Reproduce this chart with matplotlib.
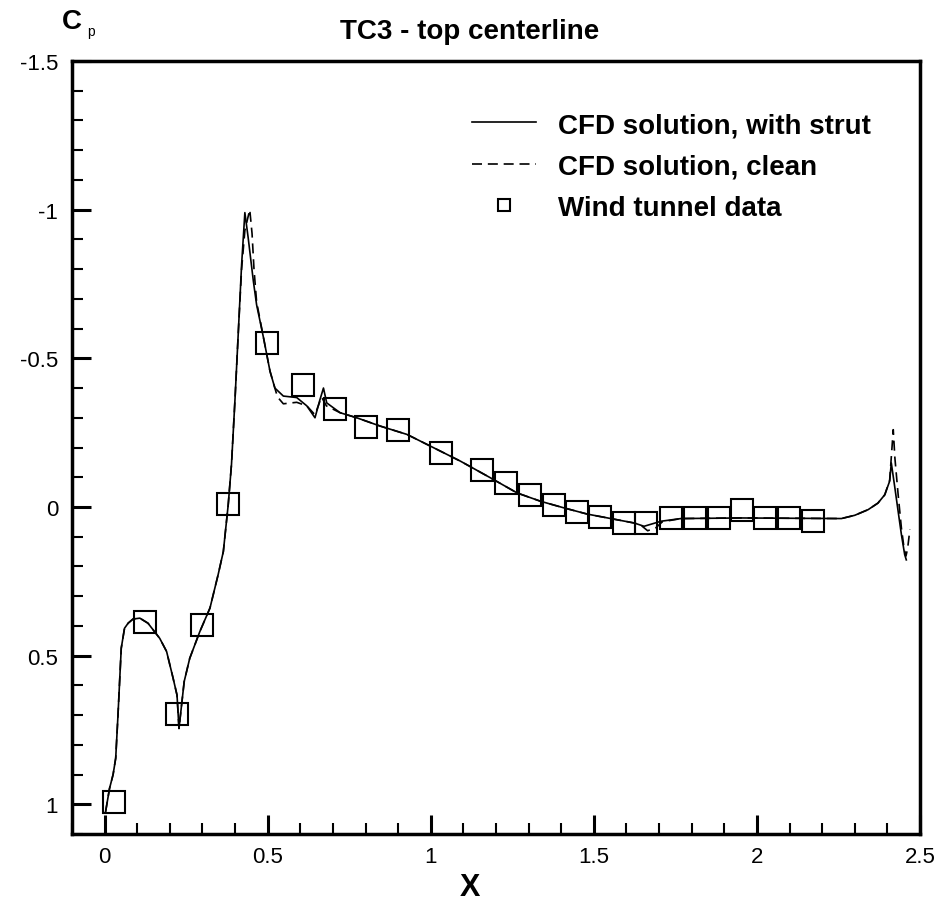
import matplotlib
matplotlib.use("Agg")
import matplotlib.pyplot as plt
from matplotlib.ticker import MultipleLocator

plt.rcParams['font.family'] = ['Liberation Sans', 'DejaVu Sans']
plt.rcParams['axes.unicode_minus'] = False

# CFD solution, with strut
x_strut = [0.003, 0.015, 0.026, 0.034, 0.041, 0.046, 0.051, 0.061, 0.072, 0.087,
           0.108, 0.133, 0.169, 0.19, 0.21, 0.222, 0.228, 0.236, 0.244, 0.261,
           0.292, 0.323, 0.348, 0.364, 0.379, 0.389, 0.40, 0.41, 0.42, 0.43,
           0.44, 0.456, 0.466, 0.487, 0.507, 0.522, 0.548, 0.589, 0.62, 0.645,
           0.66, 0.671, 0.681, 0.722, 0.773, 0.845, 0.927, 1.0, 1.091, 1.183,
           1.265, 1.337, 1.408, 1.48, 1.552, 1.624, 1.654, 1.706, 1.767, 1.951,
           2.1, 2.259, 2.30, 2.341, 2.371, 2.392, 2.407, 2.412, 2.423, 2.433,
           2.443, 2.453, 2.458]
cp_strut = [1.025, 0.947, 0.90, 0.845, 0.70, 0.587, 0.475, 0.408, 0.391, 0.377,
            0.374, 0.391, 0.442, 0.486, 0.576, 0.633, 0.745, 0.666, 0.587, 0.509,
            0.419, 0.34, 0.228, 0.15, -0.008, -0.143, -0.367, -0.59, -0.815, -0.99,
            -0.907, -0.76, -0.68, -0.57, -0.457, -0.40, -0.373, -0.368, -0.34, -0.30,
            -0.36, -0.40, -0.35, -0.317, -0.30, -0.272, -0.244, -0.204, -0.154, -0.098,
            -0.047, -0.019, 0.003, 0.024, 0.039, 0.054, 0.065, 0.048, 0.039, 0.037,
            0.038, 0.039, 0.028, 0.009, -0.013, -0.041, -0.087, -0.148, -0.064, 0.015,
            0.093, 0.16, 0.178]

# CFD solution, clean
x_clean = [0.003, 0.015, 0.026, 0.034, 0.041, 0.046, 0.051, 0.061, 0.072, 0.087,
           0.108, 0.133, 0.169, 0.19, 0.21, 0.222, 0.228, 0.236, 0.244, 0.261,
           0.292, 0.323, 0.348, 0.364, 0.379, 0.389, 0.40, 0.41, 0.42, 0.43,
           0.445, 0.452, 0.458, 0.466, 0.487, 0.507, 0.522, 0.53, 0.548, 0.589,
           0.62, 0.645, 0.665, 0.68, 0.722, 0.773, 0.845, 0.927, 1.0, 1.091,
           1.183, 1.265, 1.337, 1.408, 1.48, 1.552, 1.624, 1.645, 1.665, 1.69,
           1.71, 1.767, 1.951, 2.1, 2.259, 2.30, 2.341, 2.371, 2.392, 2.407,
           2.418, 2.423, 2.433, 2.443, 2.451, 2.457, 2.462, 2.469]
cp_clean = [1.025, 0.947, 0.90, 0.845, 0.70, 0.587, 0.475, 0.408, 0.391, 0.377,
            0.374, 0.391, 0.442, 0.486, 0.576, 0.633, 0.745, 0.666, 0.587, 0.509,
            0.419, 0.34, 0.228, 0.15, -0.008, -0.143, -0.367, -0.59, -0.80, -0.93,
            -1.0, -0.92, -0.80, -0.69, -0.57, -0.457, -0.40, -0.37, -0.347, -0.352,
            -0.34, -0.31, -0.37, -0.34, -0.317, -0.30, -0.272, -0.244, -0.204, -0.154,
            -0.098, -0.047, -0.019, 0.003, 0.024, 0.039, 0.054, 0.062, 0.08, 0.07,
            0.05, 0.039, 0.037, 0.038, 0.039, 0.028, 0.009, -0.013, -0.041, -0.09,
            -0.26, -0.165, -0.041, 0.071, 0.138, 0.165, 0.14, 0.076]

# Wind tunnel data
x_wt = [0.029, 0.125, 0.221, 0.30, 0.379, 0.498, 0.607, 0.705, 0.801, 0.898,
        1.03, 1.158, 1.232, 1.303, 1.378, 1.449, 1.519, 1.591, 1.66, 1.738,
        1.81, 1.883, 1.955, 2.025, 2.097, 2.172]
cp_wt = [0.994, 0.388, 0.698, 0.397, -0.011, -0.553, -0.41, -0.331, -0.269, -0.258,
         -0.182, -0.126, -0.079, -0.039, -0.008, 0.017, 0.034, 0.053, 0.053, 0.037,
         0.037, 0.037, 0.009, 0.037, 0.037, 0.046]

fig = plt.figure(figsize=(9.39, 9.03), dpi=100)
ax = fig.add_axes([72/939, 68/903, 848/939, 773/903])

ax.plot(x_strut, cp_strut, color='black', lw=1.2, label='CFD solution, with strut')
ax.plot(x_clean, cp_clean, color='black', lw=1.2, dashes=(6, 3.5),
        label='CFD solution, clean')
ax.plot(x_wt, cp_wt, ls='none', marker='s', ms=16, mfc='none', mec='black',
        mew=1.5, label='Wind tunnel data')

ax.set_xlim(-0.1, 2.5)
ax.set_ylim(1.1, -1.5)
ax.xaxis.set_major_locator(MultipleLocator(0.5))
ax.xaxis.set_minor_locator(MultipleLocator(0.1))
ax.yaxis.set_major_locator(MultipleLocator(0.5))
ax.yaxis.set_minor_locator(MultipleLocator(0.1))
ax.set_xticks([0, 0.5, 1, 1.5, 2, 2.5])
ax.set_xticklabels(['0', '0.5', '1', '1.5', '2', '2.5'])
ax.set_yticks([-1.5, -1, -0.5, 0, 0.5, 1])
ax.set_yticklabels(['-1.5', '-1', '-0.5', '0', '0.5', '1'])

ax.tick_params(which='both', direction='in', top=False, right=False)
ax.tick_params(which='major', length=14, width=2.2, labelsize=16)
ax.tick_params(axis='x', which='major', pad=9)
ax.tick_params(axis='y', which='major', pad=10)
ax.tick_params(which='minor', length=8, width=1.5)
for s in ax.spines.values():
    s.set_linewidth(2.5)

ax.set_xlabel('X', fontsize=22, fontweight='bold')
ax.xaxis.label.set_va('center')
ax.xaxis.set_label_coords(0.469, -0.068)

fig.text(0.5, 1 - 32/903, 'TC3 - top centerline', ha='center', va='center',
         fontsize=20, fontweight='bold')
fig.text(72/939, 1 - 22/903, 'C', ha='center', va='center', fontsize=20,
         fontweight='bold')
fig.text(91/939, 1 - 32/903, 'p', ha='center', va='center', fontsize=10)

leg = ax.legend(loc='upper left', bbox_to_anchor=(0.472, 0.934), frameon=False,
                prop={'size': 20, 'weight': 'bold'}, handlelength=2.3,
                handletextpad=0.8, labelspacing=0.55, borderpad=0,
                borderaxespad=0, markerscale=0.55)

fig.savefig('out.png', dpi=100)
